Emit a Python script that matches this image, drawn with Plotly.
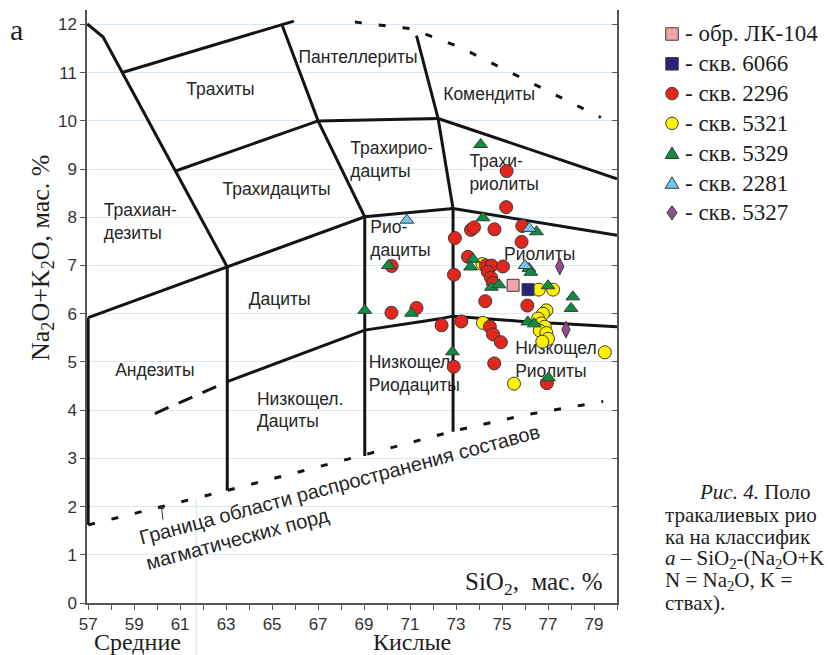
import plotly.graph_objects as go

# ---------------- measured samples: SiO2 vs Na2O+K2O (wt.%) ----------------
lk104_si = [75.48]
lk104_alk = [6.59]

w6066_si = [76.13]
w6066_alk = [6.50]

w2296_si = [75.20, 75.18, 75.88, 73.65, 73.78, 74.67, 72.95, 75.85, 73.52, 74.30,
            74.55, 75.04, 74.38, 74.52, 74.60, 72.91, 70.20, 74.27, 76.10, 70.19,
            71.28, 72.37, 73.23, 74.47, 74.61, 74.95, 72.90, 74.66, 76.95]
w2296_alk = [8.96, 8.21, 7.82, 7.74, 7.79, 7.75, 7.57, 7.49, 7.18, 7.00,
             7.00, 6.98, 6.87, 6.75, 6.64, 6.81, 6.99, 6.26, 6.17, 6.02,
             6.12, 5.76, 5.84, 5.73, 5.57, 5.41, 4.90, 4.97, 4.56]

w5321_si = [74.15, 76.60, 77.22, 76.93, 76.78, 76.57, 76.71, 76.86, 76.64, 76.93,
            77.00, 76.75, 74.17, 79.47, 75.52]
w5321_alk = [7.03, 6.50, 6.50, 6.07, 6.00, 5.90, 5.80, 5.73, 5.65, 5.60,
             5.48, 5.42, 5.81, 5.20, 4.55]

w5329_si = [74.07, 74.17, 76.50, 70.06, 73.74, 73.63, 76.17, 76.25, 74.54, 74.87,
            77.00, 78.08, 78.00, 69.03, 71.06, 76.12, 76.40, 72.84, 77.02]
w5329_alk = [9.51, 7.99, 7.70, 7.00, 7.13, 6.97, 6.94, 6.86, 6.55, 6.60,
             6.58, 6.35, 6.11, 6.07, 6.01, 5.83, 5.79, 5.21, 4.67]

w2281_si = [70.86, 76.18, 76.00]
w2281_alk = [7.94, 7.77, 7.00]

w5327_si = [77.51, 77.78]
w5327_alk = [6.98, 5.67]

legend_labels = ["- обр. ЛК-104", "- скв. 6066", "- скв. 2296", "- скв. 5321",
                 "- скв. 5329", "- скв. 2281", "- скв. 5327"]

# ---------------- field boundaries (SiO2, Na2O+K2O) ----------------
outer_si = [56.96, 57.65, 63.05]
outer_alk = [12.01, 11.74, 6.97]
trachyte_si = [58.52, 65.95]
trachyte_alk = [11.01, 12.07]
pantellerite_si = [65.45, 67.00, 69.03, 69.03]
pantellerite_alk = [11.97, 10.00, 8.01, 3.05]
trachydacite_si = [60.80, 67.00, 72.22]
trachydacite_alk = [8.96, 10.00, 10.05]
comendite_si = [71.28, 72.22, 72.87, 72.87]
comendite_alk = [11.77, 10.05, 8.18, 3.55]
trachyrhyolite_si = [72.22, 80.00]
trachyrhyolite_alk = [10.05, 8.80]
dacite_top_si = [57.00, 63.05, 69.03, 72.87, 80.00]
dacite_top_alk = [5.92, 6.97, 8.01, 8.18, 7.63]
dacite_left_si = [63.05, 63.05]
dacite_left_alk = [6.97, 2.33]
andesite_left_si = [57.00, 57.00]
andesite_left_alk = [5.92, 1.62]
low_alk_si = [63.05, 69.03, 72.37, 72.87, 75.90, 80.00]
low_alk_alk = [4.59, 5.66, 5.90, 5.95, 5.84, 5.73]
low_alk_ext_si = [59.90, 63.05]
low_alk_ext_alk = [3.93, 4.59]
upper_limit_si = [68.60, 71.06, 73.16, 75.19, 77.22, 79.30]
upper_limit_alk = [12.05, 11.91, 11.53, 11.05, 10.56, 10.07]
lower_limit_si = [57.00, 63.00, 69.00, 73.00, 76.00, 79.40]
lower_limit_alk = [1.62, 2.33, 3.07, 3.58, 3.90, 4.18]
group_boundary_si = 61.7   # intermediate / acid rocks

# ---------------- field names ----------------
center_labels = ["Трахиты", "Пантеллериты", "Комендиты", "Трахидациты",
                 "Риолиты", "Дациты", "Андезиты"]
center_label_si = [62.75, 68.74, 74.44, 65.19, 76.64, 65.33, 59.90]
center_label_alk = [10.63, 11.29, 10.53, 8.56, 7.21, 6.27, 4.79]

left_labels = ["Трахиан-<br>дезиты", "Трахирио-<br>дациты", "Трахи-<br>риолиты",
               "Рио-<br>дациты", "Низкощел.<br>Дациты", "Низкощел.<br>Риодациты",
               "Низкощел.<br>Риолиты"]
left_label_si = [57.68, 68.40, 73.58, 69.27, 64.34, 69.20, 75.57]
left_label_alk = [7.88, 9.17, 8.90, 7.52, 3.97, 4.72, 5.02]

x_ticks = list(range(57, 81))
x_ticklabels = [str(v) if v % 2 else "" for v in x_ticks]
y_ticks = list(range(0, 13))

# ---------------- page geometry ----------------
W, H = 829, 655
L, R, T, B = 87, 212, 10, 52
X_RANGE = [56.95, 80.0]
Y_RANGE = [0.0, 12.3]


def fx(px):
    """page pixel column -> paper fraction"""
    return (px - L) / (W - L - R)


def fy(py):
    """page pixel row -> paper fraction"""
    return (H - B - py) / (H - T - B)


SANS = "Liberation Sans, Arial, sans-serif"
SERIF = "Liberation Serif, Times New Roman, serif"
INK = "#262626"
DARK = "#1e1e1e"
LINE = "#141414"
EDGE = "#3a3a3a"

fig = go.Figure()

# field names sit underneath the boundaries
fig.add_trace(go.Scatter(
    x=center_label_si, y=center_label_alk, text=center_labels, mode="text",
    textposition="middle center", textfont=dict(family=SANS, size=17.5, color=INK),
    hoverinfo="skip", showlegend=False))
fig.add_trace(go.Scatter(
    x=left_label_si, y=left_label_alk, text=left_labels, mode="text",
    textposition="middle right", textfont=dict(family=SANS, size=17.5, color=INK),
    hoverinfo="skip", showlegend=False))

solid = [
    (outer_si, outer_alk), (trachyte_si, trachyte_alk),
    (pantellerite_si, pantellerite_alk), (trachydacite_si, trachydacite_alk),
    (comendite_si, comendite_alk), (trachyrhyolite_si, trachyrhyolite_alk),
    (dacite_top_si, dacite_top_alk), (dacite_left_si, dacite_left_alk),
    (andesite_left_si, andesite_left_alk), (low_alk_si, low_alk_alk),
]
for xs, ys in solid:
    fig.add_trace(go.Scatter(x=xs, y=ys, mode="lines",
                             line=dict(color=LINE, width=3),
                             hoverinfo="skip", showlegend=False))

fig.add_trace(go.Scatter(x=low_alk_ext_si, y=low_alk_ext_alk, mode="lines",
                         line=dict(color=LINE, width=3, dash="15px,11px"),
                         hoverinfo="skip", showlegend=False))
for xs, ys in [(upper_limit_si, upper_limit_alk), (lower_limit_si, lower_limit_alk)]:
    fig.add_trace(go.Scatter(x=xs, y=ys, mode="lines",
                             line=dict(color=LINE, width=3, dash="7px,17px"),
                             hoverinfo="skip", showlegend=False))

# sample groups: (si, alk, symbol, fill, size) in legend order
groups = [
    (lk104_si, lk104_alk, "square", "#f4a3ac", 12),
    (w6066_si, w6066_alk, "square", "#28237a", 12),
    (w2296_si, w2296_alk, "circle", "#e2261c", 13),
    (w5321_si, w5321_alk, "circle", "#fff200", 13),
    (w5329_si, w5329_alk, "triangle-up", "#0b8f3f", 12),
    (w2281_si, w2281_alk, "triangle-up", "#6fc7ef", 12),
    (w5327_si, w5327_alk, "diamond-tall", "#924a8e", 12),
]
draw_order = [3, 2, 4, 5, 6, 0, 1]
for i in draw_order:
    xs, ys, sym, col, sz = groups[i]
    fig.add_trace(go.Scatter(
        x=xs, y=ys, mode="markers", name=legend_labels[i],
        marker=dict(symbol=sym, color=col, size=sz, line=dict(color=EDGE, width=1)),
        showlegend=False))

# right-hand frame with inward ticks
fig.add_trace(go.Scatter(x=[X_RANGE[0]], y=[0], yaxis="y2", mode="markers",
                         marker=dict(opacity=0), hoverinfo="skip", showlegend=False))


# ---------------- key (drawn as page shapes) ----------------
def key_symbol(sym, col, cx, cy, sz):
    base = dict(xref="paper", yref="paper", fillcolor=col,
                line=dict(color=EDGE, width=1), layer="above")
    h = sz / 2.0
    if sym == "square":
        fig.add_shape(type="rect", x0=fx(cx - h), x1=fx(cx + h),
                      y0=fy(cy + h), y1=fy(cy - h), **base)
    elif sym == "circle":
        fig.add_shape(type="circle", x0=fx(cx - h), x1=fx(cx + h),
                      y0=fy(cy + h), y1=fy(cy - h), **base)
    elif sym == "triangle-up":
        hw = h * 1.1
        pts = [(cx - hw, cy + h * 0.85), (cx + hw, cy + h * 0.85), (cx, cy - h * 1.0)]
        path = "M {} {} L {} {} L {} {} Z".format(
            *[v for p in pts for v in (fx(p[0]), fy(p[1]))])
        fig.add_shape(type="path", path=path, **base)
    else:
        hw, hh = h * 0.8, h * 1.15
        pts = [(cx, cy - hh), (cx + hw, cy), (cx, cy + hh), (cx - hw, cy)]
        path = "M {} {} L {} {} L {} {} L {} {} Z".format(
            *[v for p in pts for v in (fx(p[0]), fy(p[1]))])
        fig.add_shape(type="path", path=path, **base)


leg_x = 672
leg_y0, leg_dy = 34, 29.8
for k, (xs, ys, sym, col, sz) in enumerate(groups):
    yk = leg_y0 + k * leg_dy
    key_symbol(sym, col, leg_x, yk, 12.5)
    fig.add_annotation(x=fx(leg_x + 11), y=fy(yk), xref="paper", yref="paper",
                       text=legend_labels[k], showarrow=False,
                       xanchor="left", yanchor="middle",
                       font=dict(family=SERIF, size=23, color=DARK))

# vertical separator between intermediate and acid rocks
px_frac = (group_boundary_si - X_RANGE[0]) / (X_RANGE[1] - X_RANGE[0])
lim_at_boundary = 1.62 + (group_boundary_si - 57.0) * (2.33 - 1.62) / (63.0 - 57.0)
fig.add_shape(type="line", xref="paper", yref="paper",
              x0=px_frac, x1=px_frac,
              y0=lim_at_boundary / Y_RANGE[1], y1=fy(H + 2),
              line=dict(color="#cfe2f3", width=1), layer="below")


def page_text(px, py, text, font, xanchor="center", **kw):
    fig.add_annotation(x=fx(px), y=fy(py), xref="paper", yref="paper", text=text,
                       showarrow=False, xanchor=xanchor, yanchor="middle",
                       font=font, **kw)


page_text(343, 497, "Граница области распространения составов<br>магматических порд",
          dict(family=SANS, size=20, color=INK), textangle=-15, align="left")
fig.add_annotation(x=fx(161.5), y=fy(506), xref="paper", yref="paper", text="",
                   showarrow=True, ax=1.5, ay=15, arrowhead=1, arrowsize=1,
                   arrowwidth=1, arrowcolor="#333")

page_text(16, 30, "а", dict(family=SERIF, size=30, color=DARK))
page_text(42, 258, "Na<sub>2</sub>O+K<sub>2</sub>O, мас. %",
          dict(family=SERIF, size=26, color=DARK), textangle=-90)
page_text(605, 583, "SiO<sub>2</sub>, &nbsp;мас. %",
          dict(family=SERIF, size=25, color=DARK), xanchor="right")
page_text(137, 642, "Средние", dict(family=SERIF, size=24, color=DARK))
page_text(412, 642, "Кислые", dict(family=SERIF, size=24, color=DARK))

caption = [
    (697, 492, "<i>Рис. 4.</i> Поло"),
    (663, 515, "тракалиевых рио"),
    (663, 537, "ка на классифик"),
    (663, 559, "<i>a</i> – SiO<sub>2</sub>-(Na<sub>2</sub>O+K"),
    (663, 581, "N = Na<sub>2</sub>O, K ="),
    (663, 603, "ствах)."),
]
for cx, cy, ct in caption:
    page_text(cx, cy, ct, dict(family=SERIF, size=21, color=DARK), xanchor="left")

axis_common = dict(showline=True, linecolor="#555555", linewidth=1.5,
                   zeroline=False, ticks="outside", ticklen=5,
                   tickcolor="#555555", tickwidth=1.2)

fig.update_layout(
    width=W, height=H,
    margin=dict(l=L, r=R, t=T, b=B, pad=0),
    paper_bgcolor="white", plot_bgcolor="white",
    showlegend=False,
    xaxis=dict(range=X_RANGE, tickmode="array", tickvals=x_ticks, ticktext=x_ticklabels,
               showgrid=False, tickfont=dict(family=SANS, size=17, color="#333333"),
               **axis_common),
    yaxis=dict(range=Y_RANGE, tickmode="array", tickvals=y_ticks,
               showgrid=True, gridcolor="#d8e7f5", gridwidth=1,
               tickfont=dict(family=SANS, size=17, color="#333333"),
               **axis_common),
    yaxis2=dict(range=Y_RANGE, overlaying="y", side="right", tickmode="array",
                tickvals=y_ticks, showticklabels=False, showgrid=False,
                showline=True, linecolor="#555555", linewidth=1.5, zeroline=False,
                ticks="inside", ticklen=5, tickcolor="#555555"),
)

fig.write_html("out.html")
